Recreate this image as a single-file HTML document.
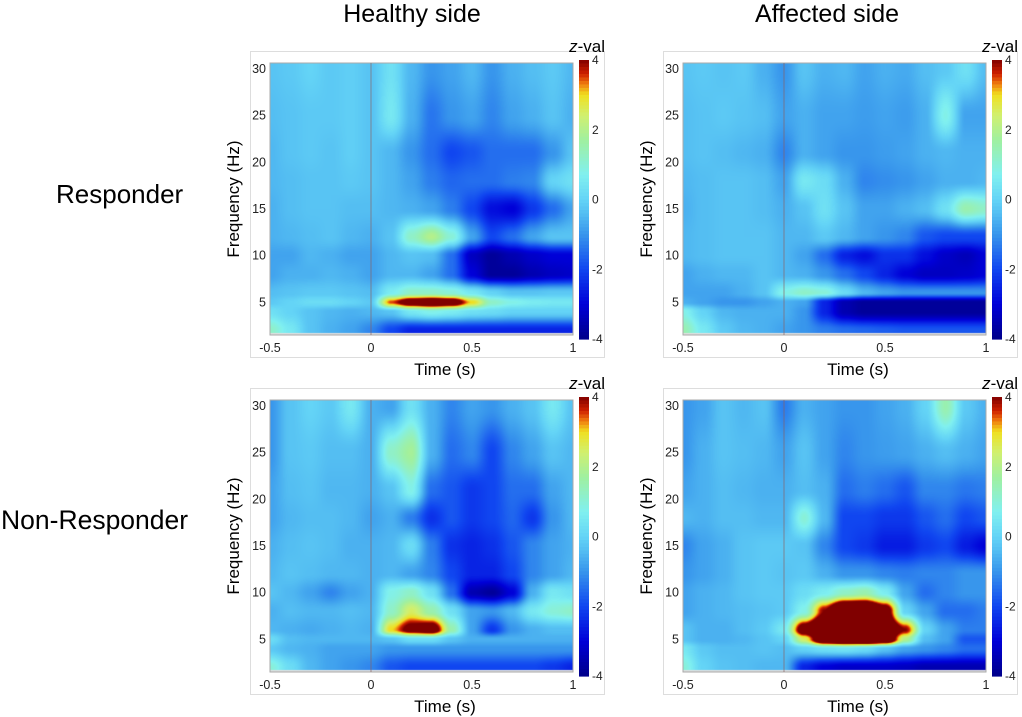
<!DOCTYPE html>
<html><head><meta charset="utf-8">
<style>
body{margin:0;background:#fff;width:1022px;height:717px;position:relative;overflow:hidden;font-family:"Liberation Sans",sans-serif;}
.t{position:absolute;white-space:nowrap;color:#000;}
</style></head>
<body>
<div class="t" style="left:412px;top:0px;font-size:25px;transform:translateX(-50%)">Healthy side</div>
<div class="t" style="left:827px;top:0px;font-size:25px;transform:translateX(-50%)">Affected side</div>
<div class="t" style="left:56px;top:179px;font-size:26px">Responder</div>
<div class="t" style="left:1px;top:505px;font-size:26.5px">Non-Responder</div>
<div id="root"></div>
<script>
const times=[-0.5,-0.4,-0.3,-0.2,-0.1,0,0.1,0.2,0.3,0.4,0.5,0.6,0.7,0.8,0.9,1.0];
const freqs=[2,4,5,6,8,10,12,15,18,21,25,30];
const xTicks=[-0.5,0,0.5,1];
const yTicks=[5,10,15,20,25,30];
const cbTicks=[-4,-2,0,2,4];
const zHealthyResp=[
[1.2,0.5,-0.3,-0.6,-0.8,-1.2,-2,-2.5,-2.5,-2.5,-2.5,-2.5,-2.5,-2.5,-2.5,-2.5],
[0.3,0,-0.3,-0.5,-0.6,-0.5,-0.3,0.5,0.8,0.6,0.3,0.2,0,0,0,0],
[-0.2,0,0.2,0.2,0,-0.2,3.5,5,5.5,5,3,1.2,0.8,0.6,0.5,0.5],
[-0.4,-0.3,-0.2,-0.2,-0.3,-0.4,0.6,1.2,1.2,1,0.5,0,-0.3,-0.3,-0.2,-0.2],
[-0.8,-0.6,-0.6,-0.5,-0.6,-0.8,-0.5,-0.5,-0.8,-1.5,-3,-3.8,-3.8,-3.5,-3.3,-3.2],
[-0.8,-0.8,-0.5,-0.6,-0.8,-0.8,-0.5,-0.3,-0.4,-1.5,-3.3,-3.8,-3.5,-3.2,-3,-3],
[-0.6,-0.5,-0.4,-0.3,-0.5,-0.6,-0.3,1.2,2,1,-0.8,-2,-1.5,-0.8,-0.3,-0.3],
[-0.6,-0.4,-0.3,-0.3,-0.4,-0.4,-0.5,-0.6,-0.8,-1.3,-2,-2.8,-3,-2.2,-1.5,-0.8],
[-0.5,-0.4,-0.3,-0.3,-0.2,-0.3,-0.5,-0.8,-1.3,-1.6,-1.5,-1.5,-1.3,-1.2,0,0.3],
[-0.5,-0.3,-0.2,-0.3,-0.1,-0.3,-0.5,-1,-1.5,-2,-1.8,-1.5,-1.5,-1.5,-1,-0.3],
[-0.4,-0.3,-0.2,-0.2,-0.1,-0.3,0.5,-0.6,-1.4,-1,-0.8,-1.2,-0.8,-0.6,-0.3,-0.6],
[-0.3,-0.2,0,-0.2,-0.1,-0.3,0.3,-0.5,-1,-0.8,-0.5,-1,-0.6,-0.4,-0.2,-0.5]];
const zAffectedResp=[
[1.5,0.5,-0.2,-0.5,-0.6,-0.8,-1,-1.3,-1.5,-1.6,-1.7,-1.8,-1.8,-1.8,-1.8,-1.8],
[0.8,0,-0.5,-0.6,-0.6,-0.6,-1,-2.5,-3.5,-3.8,-3.8,-3.8,-3.8,-3.8,-3.8,-3.8],
[-0.6,-0.8,-1,-1,-0.8,-0.6,-0.8,-2.5,-3.5,-3.8,-3.8,-3.8,-3.8,-3.8,-3.8,-3.8],
[-0.8,-0.8,-0.8,-0.6,-0.3,0.8,1.2,1,0.2,-0.5,-0.8,-1,-1,-1,-1,-1],
[-0.8,-0.6,-0.5,-0.5,-0.3,-0.5,-0.6,-1,-1.5,-2,-2.5,-3,-3.3,-3.3,-3.2,-3],
[-0.5,-0.4,-0.3,-0.3,-0.3,-0.5,-0.8,-1.5,-2.5,-2.8,-2.3,-2.3,-2.8,-3.2,-3.4,-3],
[-0.5,-0.4,-0.3,-0.3,-0.3,-0.5,-0.5,-0.2,-0.5,-0.8,-1,-1.2,-1.8,-2,-2,-2],
[-0.6,-0.4,-0.3,-0.3,-0.4,-0.6,-0.3,0.3,-0.3,-0.8,-0.8,-0.6,-0.4,0.3,1.5,1.2],
[-0.5,-0.4,-0.3,-0.3,-0.4,-0.8,0.5,0.2,-0.6,-1.2,-1.1,-1,-0.8,-0.6,-0.6,-0.5],
[-0.4,-0.3,-0.4,-0.5,-0.6,-1.2,-0.6,-0.8,-1,-1,-0.9,-0.8,-0.6,-0.5,-0.6,-0.6],
[-0.4,-0.3,-0.2,-0.3,-0.4,-0.8,-0.6,-0.8,-0.8,-0.9,-0.8,-0.9,-0.6,0.8,-0.8,-0.8],
[-0.3,-0.2,-0.3,-0.2,-0.6,-1,-0.3,-0.6,-0.5,-0.8,-0.6,-0.7,-0.4,-0.2,0.3,-0.4]];
const zHealthyNonResp=[
[1,0.2,-0.5,-0.8,-1,-1.2,-1.8,-2,-2,-2,-2,-2,-2,-2,-2.2,-2.5],
[-0.2,-0.5,-0.6,-0.8,-0.8,-0.8,-1,-1,-1,-1,-1,-1,-1,-1,-1,-1],
[0.2,-0.4,-0.5,-0.5,-0.5,-0.5,-0.3,0.2,0.2,-0.3,-0.6,-0.6,-0.6,-0.6,-0.6,-0.6],
[-0.5,-0.6,-0.7,-0.6,-0.5,-0.6,3,4.5,5,1.5,-0.8,-2.2,-1,-0.6,-0.4,-0.4],
[-0.6,-0.4,-0.5,-0.5,-0.4,-0.5,1.2,2.5,1.5,0.3,-0.8,-1,-0.5,0.5,1,1.2],
[-0.3,-0.5,-0.8,-1.2,-0.8,-0.6,0.8,1.2,0.3,-1.5,-3.5,-3.8,-3,-0.6,0.5,0.3],
[-0.5,-0.3,-0.4,-0.5,-0.5,-0.6,-0.5,-0.8,-1.2,-2,-2.5,-2.5,-2,-1.2,-0.8,-0.5],
[-0.6,-0.4,-0.3,-0.4,-0.6,-0.6,-0.5,0.2,-1.3,-2.3,-2.5,-2.3,-1.8,-1.2,-0.8,-0.6],
[-0.8,-0.5,-0.4,-0.4,-0.5,-0.8,-0.6,-1.3,-2.3,-1.8,-2.2,-2,-1.6,-2.2,-1,-0.5],
[-0.8,-0.4,-0.3,-0.5,-0.5,-0.6,-0.3,0.8,-1.5,-1.8,-2.2,-2,-1.5,-1.5,-0.8,-0.5],
[-1,-0.3,-0.2,-0.4,-0.4,-0.6,1.2,1.8,-0.6,-1.5,-1.2,-2,-1.2,-0.8,-0.3,-0.5],
[-1,-0.3,0,-0.2,0.5,-0.6,-0.8,0.3,-0.6,-1.2,-0.8,-1,-0.6,-0.3,0.5,-0.3]];
const zAffectedNonResp=[
[1,0,-0.3,-0.4,-0.5,-0.5,-2.5,-3,-3.2,-3.2,-3.2,-3.3,-3.5,-3.5,-3.5,-3.5],
[0.5,-0.2,-0.4,-0.4,-0.3,-0.4,0,0.3,0.4,0.2,-0.3,-0.8,-1,-1.2,-1.5,-1.5],
[-0.3,-0.6,-0.6,-0.5,-0.3,0,2.5,6,7,7,6,2,-0.4,-0.8,-1.8,-1.8],
[-0.3,-0.6,-0.6,-0.4,-0.2,0.5,5,7,7,7,6,4,0,-0.8,-1.3,-1.3],
[-0.8,-0.6,-0.5,-0.4,-0.3,-0.2,0.8,4,7,7,5,0,-0.8,-1.5,-1.5,-1.3],
[-0.8,-0.6,-0.5,-0.3,-0.2,-0.2,0.2,0.6,1.2,1.5,0.6,-0.8,-1.5,-1.2,-1,-1],
[-1,-0.8,-0.6,-0.3,-0.2,-0.3,-0.2,-0.6,-1,-1,-1.2,-1.3,-1.2,-1.2,-1,-1],
[-1.2,-0.8,-0.6,-0.3,-0.2,-0.2,-0.3,-1.2,-2,-2.2,-2.6,-2.6,-2.2,-2,-2.6,-3],
[-0.5,-0.6,-0.4,-0.4,-0.5,-0.5,1,-0.5,-2,-2,-2.2,-2.2,-1.8,-1.5,-2,-1.8],
[-0.8,-0.6,-0.4,-0.5,-0.6,-0.6,-0.4,-0.6,-1.5,-1.3,-1.5,-1.8,-1.2,-1.2,-1.4,-1.3],
[-1,-0.6,-0.3,-0.4,-0.5,-0.8,-0.3,-0.8,-1.2,-1,-0.9,-0.8,-0.6,-0.4,-0.6,-0.8],
[-1,-0.8,-0.3,-0.5,-0.3,-1.3,-0.6,-0.8,-1,-1,-0.8,-0.6,0,1.5,-0.2,-0.6]];

const stops=[[-4,[0,0,138]],[-3,[0,0,216]],[-2,[16,70,240]],[-1,[56,150,236]],[-0.4,[84,190,242]],[0,[100,212,246]],[0.7,[128,240,240]],[1.7,[160,240,160]],[2.4,[208,240,112]],[3,[240,224,32]],[3.3,[240,128,16]],[3.6,[208,32,0]],[4,[128,0,0]]];
function cmap(z){
  if(z<=stops[0][0])return stops[0][1];
  for(let i=1;i<stops.length;i++){
    if(z<=stops[i][0]){const a=stops[i-1],b=stops[i];const u=(z-a[0])/(b[0]-a[0]);
      return [0,1,2].map(k=>a[1][k]+(b[1][k]-a[1][k])*u);}
  }
  return stops[stops.length-1][1];
}
function seg(arr,v){
  if(v<=arr[0])return [0,0];
  if(v>=arr[arr.length-1])return [arr.length-2,1];
  for(let i=0;i<arr.length-1;i++)if(v<=arr[i+1])return [i,(v-arr[i])/(arr[i+1]-arr[i])];
}
function sm(u){return u*u*(3-2*u);}
function sample(Z,t,f){
  const [i,u0]=seg(times,t),[j,v0]=seg(freqs,f);const u=sm(u0),v=sm(v0);
  return (Z[j][i]*(1-u)+Z[j][i+1]*u)*(1-v)+(Z[j+1][i]*(1-u)+Z[j+1][i+1]*u)*v;
}
const NS='http://www.w3.org/2000/svg';
const root=document.getElementById('root');
const panels=[
 {Z:zHealthyResp,ox:270,oy:63,name:'healthy-responder'},
 {Z:zAffectedResp,ox:683,oy:63,name:'affected-responder'},
 {Z:zHealthyNonResp,ox:270,oy:400,name:'healthy-non-responder'},
 {Z:zAffectedNonResp,ox:683,oy:400,name:'affected-non-responder'}];
const PW=303,PH=272;
function mk(tag,attrs,parent){const e=document.createElementNS(NS,tag);for(const k in attrs)e.setAttribute(k,attrs[k]);parent.appendChild(e);return e;}
panels.forEach(p=>{
  const xS=t=>p.ox+(t+0.5)/1.5*PW;
  const yS=f=>p.oy+6+(30-f)*9.33;
  const fInv=y=>30-(y-p.oy-6)/9.33;
  const tInv=x=>(x-p.ox)/PW*1.5-0.5;
  const fr=document.createElement('div');
  
  
  fr.style.cssText=`position:absolute;left:${p.ox-20}px;top:${p.oy-12}px;width:355px;height:307px;border:1px solid #ddd;box-sizing:border-box`;
  root.appendChild(fr);
  const cv=document.createElement('canvas');cv.width=PW;cv.height=PH;
  
  
  cv.style.cssText=`position:absolute;left:${p.ox}px;top:${p.oy}px`;
  root.appendChild(cv);
  const ctx=cv.getContext('2d');const img=ctx.createImageData(PW,PH);
  const fTop=30.6,fBot=1.7;
  for(let y=0;y<PH;y++){const f=fInv(p.oy+y+0.5);
    for(let x=0;x<PW;x++){const k=(y*PW+x)*4;let c;
      if(f>fTop||f<fBot)c=[222,222,222];else c=cmap(sample(p.Z,tInv(p.ox+x+0.5),f));
      img.data[k]=c[0];img.data[k+1]=c[1];img.data[k+2]=c[2];img.data[k+3]=255;}}
  ctx.putImageData(img,0,0);
  const svg=document.createElementNS(NS,'svg');
  svg.setAttribute('width',1022);svg.setAttribute('height',717);
  svg.style.cssText='position:absolute;left:0;top:0;pointer-events:none';
  
  
  root.appendChild(svg);
  mk('rect',{x:p.ox,y:p.oy,width:PW,height:PH,fill:'none',stroke:'#aaa','stroke-width':1},svg);
  const zl=mk('line',{x1:xS(0),x2:xS(0),y1:p.oy,y2:p.oy+PH,stroke:'#8a6060','stroke-width':0.8,opacity:0.8},svg);
  
  xTicks.forEach(t=>{
    const tx=mk('text',{x:xS(t),y:p.oy+PH+17,'text-anchor':'middle','font-size':12.5,fill:'#222','font-family':'Liberation Sans, sans-serif'},svg);
    tx.textContent=String(t);
    
  });
  yTicks.forEach(f=>{
    const tx=mk('text',{x:p.ox-4,y:yS(f)+4,'text-anchor':'end','font-size':12.5,fill:'#222','font-family':'Liberation Sans, sans-serif'},svg);
    tx.textContent=String(f);
    
  });
  const xt=mk('text',{x:p.ox+175,y:p.oy+PH+40,'text-anchor':'middle','font-size':17,fill:'#000','font-family':'Liberation Sans, sans-serif'},svg);
  xt.textContent='Time (s)';
  
  const yt=mk('text',{x:0,y:0,'text-anchor':'middle','font-size':17,fill:'#000','font-family':'Liberation Sans, sans-serif',transform:`translate(${p.ox-31},${p.oy+136}) rotate(-90)`},svg);
  yt.textContent='Frequency (Hz)';
  
  const cbx=p.ox+309,cbT=p.oy-3,cbH=279;
  const n=80;
  for(let i=0;i<n;i++){const z=4-8*(i+0.5)/n;const c=cmap(z);
    const r=mk('rect',{x:cbx,y:cbT+i*cbH/n,width:10,height:cbH/n+0.6,fill:`rgb(${c.map(Math.round).join(',')})`},svg);
    }
  cbTicks.forEach(z=>{
    const tx=mk('text',{x:cbx+13,y:cbT+(4-z)/8*cbH+4,'font-size':12,fill:'#222','font-family':'Liberation Sans, sans-serif'},svg);
    tx.textContent=String(z);
    
  });
  const zt=mk('text',{x:cbx+26,y:p.oy-11,'text-anchor':'end','font-size':17,fill:'#000','font-family':'Liberation Sans, sans-serif'},svg);
  zt.innerHTML='<tspan font-style="italic">z</tspan>-val';
  
});
</script>
</body></html>
